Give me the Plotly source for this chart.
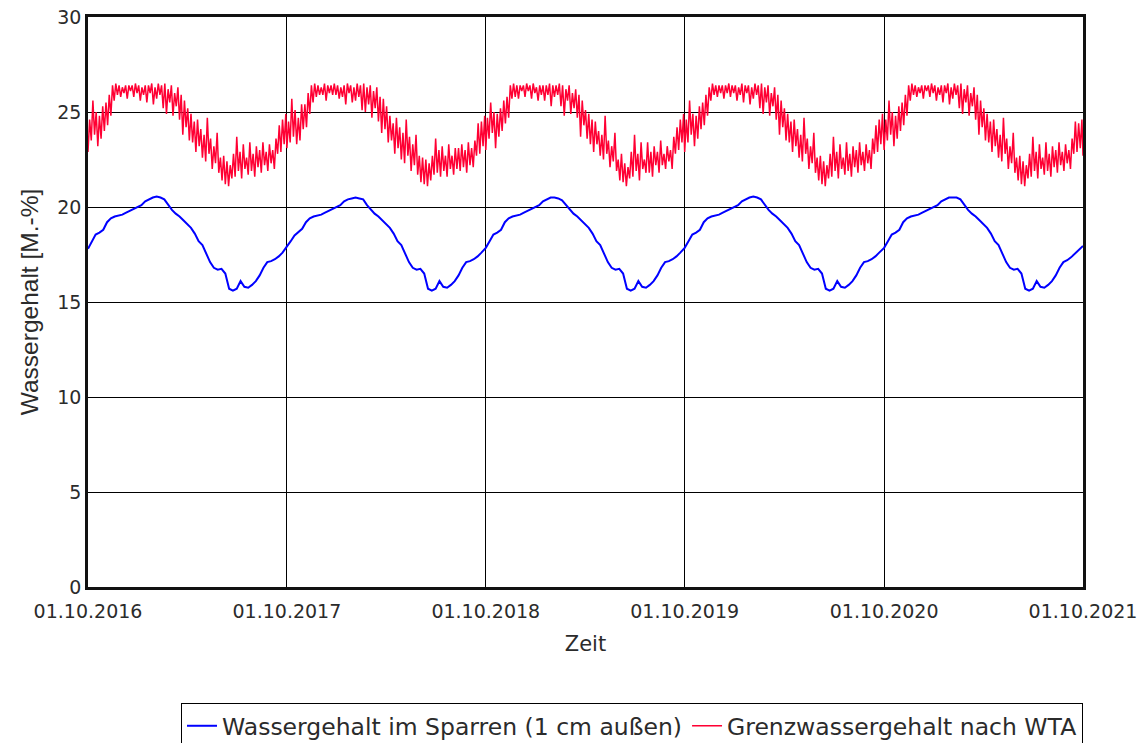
import datetime as dt
import plotly.graph_objects as go

# ---------------- data ----------------
years = [2016, 2017, 2018, 2019, 2020]
tick_dates = ["2016-10-01", "2017-10-01", "2018-10-01", "2019-10-01", "2020-10-01", "2021-10-01"]
tick_labels = ["01.10.2016", "01.10.2017", "01.10.2018", "01.10.2019", "01.10.2020", "01.10.2021"]
y_ticks = [0, 5, 10, 15, 20, 25, 30]

name_blue = "Wassergehalt im Sparren (1 cm außen)"
name_red = "Grenzwassergehalt nach WTA"

red_step_days = 3
blue_step_days = 7

red_2016 = [22.9, 24.6, 23.5, 25.6, 23.8, 25.0, 23.2, 24.8, 23.6, 25.3, 24.0, 25.5, 24.3, 25.9, 24.8, 26.4,
            25.6, 26.5, 25.9, 26.4, 25.8, 26.3, 26.0, 26.4, 25.7, 26.4, 26.1, 26.4, 25.8, 26.5, 26.0, 26.4,
            25.6, 26.3, 25.9, 26.4, 25.5, 26.4, 26.0, 26.5, 25.4, 26.3, 25.7, 26.5, 25.9, 26.4, 25.2, 26.5,
            24.9, 26.2, 25.5, 26.4, 24.8, 26.0, 25.3, 26.3, 24.6, 25.9, 23.8, 25.6, 24.2, 25.2, 23.5, 24.9,
            23.4, 24.5, 22.9, 24.6, 23.2, 24.1, 22.6, 23.8, 22.4, 24.7, 22.8, 23.6, 22.0, 23.2, 22.3, 23.9,
            21.8, 22.6, 21.4, 22.7, 21.2, 22.4, 21.1, 22.2, 21.5, 22.8, 21.6, 23.7, 21.9, 22.9, 21.5, 23.3,
            22.0, 22.6, 21.7, 23.4, 21.9, 22.8, 21.6, 23.2, 22.1, 23.0, 21.8, 23.4, 22.2, 22.9, 21.9, 23.3,
            22.3, 23.0, 22.0, 23.6, 22.8, 24.3, 22.9, 24.6, 23.3, 24.9]
red_2017 = [23.1, 24.5, 23.4, 25.7, 23.7, 25.1, 23.3, 24.7, 23.5, 25.4, 24.1, 25.4, 24.2, 26.0, 24.9, 26.4,
            25.5, 26.5, 25.8, 26.4, 25.9, 26.3, 25.9, 26.5, 25.6, 26.4, 26.0, 26.4, 25.9, 26.5, 25.9, 26.4,
            25.7, 26.3, 25.8, 26.4, 25.4, 26.5, 26.0, 26.4, 25.5, 26.3, 25.6, 26.5, 25.8, 26.4, 25.1, 26.5,
            25.0, 26.3, 25.4, 26.4, 24.7, 26.1, 25.2, 26.3, 24.5, 25.8, 23.9, 25.7, 24.1, 25.3, 23.4, 24.8,
            23.5, 24.4, 22.8, 24.7, 23.1, 24.2, 22.5, 23.9, 22.3, 24.6, 22.7, 23.7, 21.9, 23.3, 22.2, 23.8,
            21.7, 22.7, 21.3, 22.6, 21.2, 22.5, 21.1, 22.3, 21.4, 22.7, 21.7, 23.6, 21.8, 23.0, 21.6, 23.2,
            21.9, 22.7, 21.6, 23.3, 22.0, 22.7, 21.7, 23.1, 22.0, 23.1, 21.9, 23.3, 22.1, 23.0, 21.8, 23.4,
            22.2, 23.1, 22.1, 23.5, 22.7, 24.4, 22.8, 24.5, 23.2, 24.8]
red_2018 = [23.0, 24.7, 23.6, 25.5, 23.9, 25.0, 23.1, 24.9, 23.7, 25.2, 24.0, 25.6, 24.4, 25.8, 24.7, 26.4,
            25.7, 26.5, 25.8, 26.4, 25.7, 26.4, 26.1, 26.4, 25.8, 26.5, 26.1, 26.4, 25.7, 26.5, 26.0, 26.3,
            25.6, 26.4, 25.9, 26.4, 25.6, 26.4, 25.9, 26.5, 25.3, 26.4, 25.8, 26.4, 25.9, 26.5, 25.3, 26.4,
            24.8, 26.2, 25.6, 26.4, 24.9, 26.0, 25.2, 26.2, 24.7, 25.9, 23.7, 25.6, 24.3, 25.1, 23.6, 24.9,
            23.3, 24.6, 22.9, 24.5, 23.3, 24.0, 22.7, 23.8, 22.5, 24.8, 22.8, 23.5, 22.1, 23.2, 22.4, 23.9,
            21.9, 22.5, 21.4, 22.8, 21.3, 22.3, 21.1, 22.1, 21.5, 22.9, 21.6, 23.8, 21.9, 22.8, 21.4, 23.4,
            22.0, 22.5, 21.8, 23.4, 21.8, 22.9, 21.6, 23.2, 22.2, 22.9, 21.8, 23.5, 22.2, 22.8, 22.0, 23.2,
            22.4, 23.0, 22.0, 23.7, 22.8, 24.2, 23.0, 24.6, 23.4, 24.9]
red_2019 = [22.9, 24.6, 23.4, 25.6, 23.8, 24.9, 23.2, 24.8, 23.6, 25.3, 24.1, 25.5, 24.3, 25.9, 24.8, 26.3,
            25.6, 26.5, 25.9, 26.4, 25.8, 26.4, 26.0, 26.4, 25.7, 26.4, 26.0, 26.5, 25.8, 26.4, 26.0, 26.4,
            25.6, 26.3, 25.9, 26.5, 25.5, 26.4, 26.0, 26.4, 25.4, 26.3, 25.7, 26.5, 25.9, 26.4, 25.2, 26.5,
            24.9, 26.3, 25.5, 26.4, 24.8, 26.0, 25.3, 26.3, 24.6, 25.9, 23.8, 25.6, 24.2, 25.2, 23.5, 24.9,
            23.4, 24.5, 22.9, 24.6, 23.2, 24.1, 22.6, 23.8, 22.4, 24.7, 22.8, 23.6, 22.0, 23.2, 22.3, 23.9,
            21.8, 22.6, 21.4, 22.7, 21.2, 22.4, 21.1, 22.2, 21.5, 22.8, 21.6, 23.7, 21.9, 22.9, 21.5, 23.3,
            22.0, 22.6, 21.7, 23.4, 21.9, 22.8, 21.6, 23.2, 22.1, 23.0, 21.8, 23.4, 22.2, 22.9, 21.9, 23.3,
            22.3, 23.0, 22.0, 23.6, 22.8, 24.3, 22.9, 24.6, 23.3, 24.9]
red_2020 = [23.0, 24.6, 23.5, 25.6, 23.8, 25.0, 23.2, 24.8, 23.6, 25.3, 24.0, 25.5, 24.3, 25.9, 24.8, 26.4,
            25.6, 26.5, 25.9, 26.4, 25.8, 26.3, 26.0, 26.4, 25.7, 26.4, 26.1, 26.4, 25.8, 26.5, 26.0, 26.4,
            25.6, 26.3, 25.9, 26.4, 25.5, 26.4, 26.0, 26.5, 25.4, 26.3, 25.7, 26.5, 25.9, 26.4, 25.2, 26.5,
            24.9, 26.2, 25.5, 26.4, 24.8, 26.0, 25.3, 26.3, 24.6, 25.9, 23.8, 25.6, 24.2, 25.2, 23.5, 24.9,
            23.4, 24.5, 22.9, 24.6, 23.2, 24.1, 22.6, 23.8, 22.4, 24.7, 22.8, 23.6, 22.0, 23.2, 22.3, 23.9,
            21.8, 22.6, 21.4, 22.7, 21.2, 22.4, 21.1, 22.2, 21.5, 22.8, 21.6, 23.7, 21.9, 22.9, 21.5, 23.3,
            22.0, 22.6, 21.7, 23.4, 21.9, 22.8, 21.6, 23.2, 22.1, 23.0, 21.8, 23.4, 22.2, 22.9, 21.9, 23.3,
            22.3, 23.0, 22.0, 23.6, 22.8, 24.5, 22.9, 24.4, 23.1, 24.6]
red_end = 22.7

blue_2016 = [17.8, 18.2, 18.55, 18.65, 18.8, 19.2, 19.4, 19.5, 19.55, 19.6, 19.7, 19.8, 19.9, 20.0, 20.1,
             20.3, 20.4, 20.5, 20.55, 20.5, 20.4, 20.1, 19.85, 19.65, 19.5, 19.3, 19.1, 18.9, 18.6, 18.2,
             18.0, 17.5, 17.1, 16.8, 16.7, 16.75, 16.5, 15.7, 15.6, 15.7, 16.1, 15.8, 15.75, 15.9, 16.1,
             16.4, 16.8, 17.1, 17.15, 17.25, 17.4, 17.6]
blue_2017 = [17.9, 18.2, 18.5, 18.7, 18.85, 19.2, 19.4, 19.5, 19.55, 19.6, 19.7, 19.8, 19.9, 20.0, 20.1,
             20.3, 20.4, 20.45, 20.5, 20.45, 20.4, 20.1, 19.85, 19.65, 19.5, 19.3, 19.1, 18.9, 18.6, 18.2,
             18.0, 17.5, 17.1, 16.8, 16.7, 16.75, 16.5, 15.7, 15.6, 15.7, 16.1, 15.8, 15.75, 15.9, 16.1,
             16.4, 16.8, 17.1, 17.15, 17.25, 17.4, 17.6]
blue_2018 = [17.85, 18.2, 18.55, 18.65, 18.8, 19.2, 19.4, 19.5, 19.55, 19.6, 19.7, 19.8, 19.9, 20.0, 20.1,
             20.3, 20.4, 20.5, 20.5, 20.45, 20.35, 20.1, 19.85, 19.65, 19.5, 19.3, 19.1, 18.9, 18.6, 18.2,
             18.0, 17.5, 17.1, 16.8, 16.7, 16.75, 16.5, 15.7, 15.6, 15.7, 16.1, 15.8, 15.75, 15.9, 16.1,
             16.4, 16.8, 17.1, 17.15, 17.25, 17.4, 17.6]
blue_2019 = [17.85, 18.2, 18.55, 18.65, 18.8, 19.2, 19.4, 19.5, 19.55, 19.6, 19.7, 19.8, 19.9, 20.0, 20.1,
             20.3, 20.4, 20.5, 20.55, 20.5, 20.4, 20.1, 19.85, 19.65, 19.5, 19.3, 19.1, 18.9, 18.6, 18.2,
             18.0, 17.5, 17.1, 16.8, 16.7, 16.75, 16.5, 15.7, 15.6, 15.7, 16.1, 15.8, 15.75, 15.9, 16.1,
             16.4, 16.8, 17.1, 17.15, 17.25, 17.4, 17.6]
blue_2020 = [17.85, 18.2, 18.55, 18.65, 18.8, 19.2, 19.4, 19.5, 19.55, 19.6, 19.7, 19.8, 19.9, 20.0, 20.1,
             20.3, 20.4, 20.5, 20.5, 20.5, 20.4, 20.1, 19.85, 19.65, 19.5, 19.3, 19.1, 18.9, 18.6, 18.2,
             18.0, 17.5, 17.1, 16.8, 16.7, 16.75, 16.5, 15.7, 15.6, 15.7, 16.1, 15.8, 15.75, 15.9, 16.1,
             16.4, 16.8, 17.1, 17.2, 17.35, 17.55, 17.75]
blue_end = 17.95

red_by_year = [red_2016, red_2017, red_2018, red_2019, red_2020]
blue_by_year = [blue_2016, blue_2017, blue_2018, blue_2019, blue_2020]


def build(series_by_year, step, end_val):
    xs, ys = [], []
    for yr, vals in zip(years, series_by_year):
        start = dt.date(yr, 10, 1)
        for i, v in enumerate(vals):
            xs.append(start + dt.timedelta(days=step * i))
            ys.append(v)
    xs.append(dt.date(2021, 10, 1))
    ys.append(end_val)
    return xs, ys


bx, by = build(blue_by_year, blue_step_days, blue_end)
rx, ry = build(red_by_year, red_step_days, red_end)

wide_font = "DejaVu Sans, Verdana, sans-serif"
narrow_font = "Liberation Sans, Arial, sans-serif"
text_color = "#2b2b2b"

fig = go.Figure()
fig.add_trace(go.Scatter(x=bx, y=by, mode="lines", name=name_blue,
                         line=dict(color="#0000ff", width=2)))
fig.add_trace(go.Scatter(x=rx, y=ry, mode="lines", name=name_red,
                         line=dict(color="#ff0033", width=1.5)))

fig.update_layout(
    width=1138, height=743,
    margin=dict(l=88, r=55, t=17, b=156, autoexpand=False),
    paper_bgcolor="white", plot_bgcolor="white",
    font=dict(family=wide_font, color=text_color, size=18),
    showlegend=True,
    legend=dict(orientation="h", x=1, xanchor="right", y=-0.2035, yanchor="top",
                bordercolor="black", borderwidth=1, bgcolor="white",
                font=dict(size=23.5, color=text_color, family=wide_font), itemwidth=30,
                tracegroupgap=0),
    xaxis=dict(type="date", range=[tick_dates[0], tick_dates[-1]],
               tickmode="array", tickvals=tick_dates, ticktext=tick_labels,
               showgrid=True, gridcolor="black", gridwidth=1.2,
               showline=True, linecolor="#111", linewidth=2.5, mirror=True,
               ticks="", zeroline=False, ticklabeloverflow="allow", ticklabelstandoff=5,
               tickfont=dict(size=19, family=wide_font),
               title=dict(text="Zeit", font=dict(size=21, family=wide_font), standoff=16)),
    yaxis=dict(range=[0, 30], tickmode="array", tickvals=y_ticks,
               showgrid=True, gridcolor="black", gridwidth=1.2,
               showline=True, linecolor="#111", linewidth=2.5, mirror=True,
               ticks="", zeroline=False, ticklabeloverflow="allow",
               tickfont=dict(size=19, family=wide_font),
               title=dict(text="Wassergehalt [M.-%]", font=dict(size=24.5, family=narrow_font),
                          standoff=12)),
)

fig.write_html("out.html", config={"displayModeBar": False},
               post_script="document.body.style.margin='0';document.body.style.overflow='hidden';")
